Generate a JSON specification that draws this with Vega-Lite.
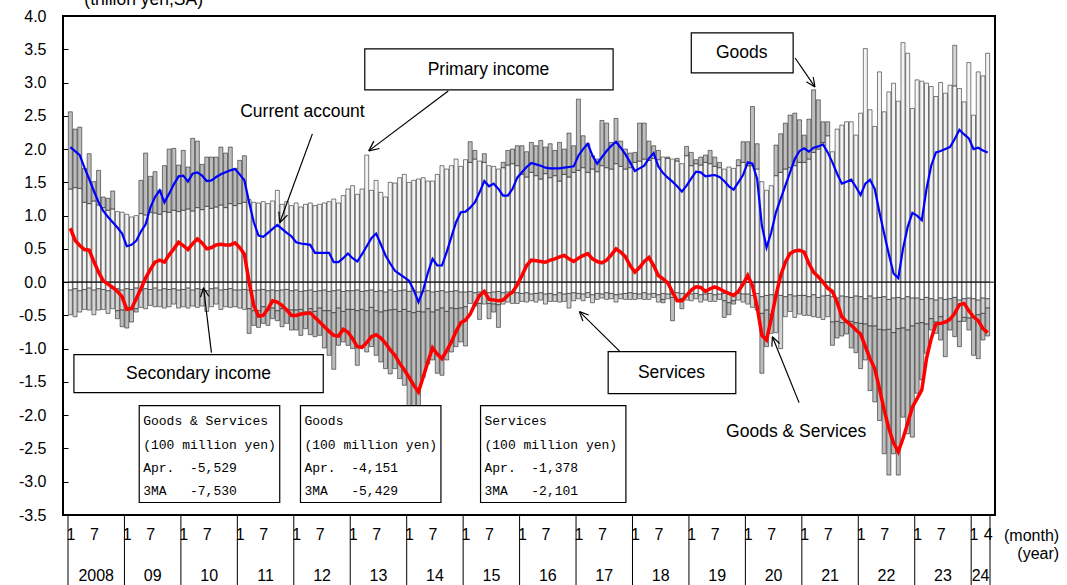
{
"$schema":"https://vega.github.io/schema/vega-lite/v6.json",
"width":932,"height":499,
"padding":{"left":63,"top":16,"right":72,"bottom":70},
"autosize":{"type":"none"},
"background":"white",
"config":{"view":{"stroke":"black","strokeWidth":2},"font":"Liberation Sans",
 "axis":{"labelOverlap":false,"labelFlush":false,"labelBound":false}},
"datasets":{
"monthly":[
{"t":0,"pi":1.40,"si":-0.12,"sv":-0.37,"tg":1.16,"ca":2.03,"gs":0.81},
{"t":1,"pi":1.42,"si":-0.10,"sv":-0.42,"tg":0.88,"ca":1.97,"gs":0.63},
{"t":2,"pi":1.41,"si":-0.13,"sv":-0.32,"tg":0.92,"ca":1.91,"gs":0.55},
{"t":3,"pi":1.20,"si":-0.11,"sv":-0.30,"tg":0.51,"ca":1.72,"gs":0.49},
{"t":4,"pi":1.18,"si":-0.09,"sv":-0.33,"tg":0.75,"ca":1.55,"gs":0.48},
{"t":5,"pi":1.22,"si":-0.12,"sv":-0.37,"tg":0.29,"ca":1.37,"gs":0.31},
{"t":6,"pi":1.16,"si":-0.10,"sv":-0.32,"tg":0.52,"ca":1.20,"gs":0.15},
{"t":7,"pi":1.12,"si":-0.11,"sv":-0.30,"tg":0.16,"ca":1.07,"gs":0.02},
{"t":8,"pi":1.08,"si":-0.13,"sv":-0.34,"tg":0.18,"ca":0.98,"gs":-0.03},
{"t":9,"pi":1.10,"si":-0.09,"sv":-0.31,"tg":0.27,"ca":0.90,"gs":-0.08},
{"t":10,"pi":1.06,"si":-0.10,"sv":-0.33,"tg":-0.12,"ca":0.82,"gs":-0.14},
{"t":11,"pi":1.05,"si":-0.12,"sv":-0.30,"tg":-0.25,"ca":0.73,"gs":-0.22},
{"t":12,"pi":1.02,"si":-0.10,"sv":-0.29,"tg":-0.30,"ca":0.54,"gs":-0.41},
{"t":13,"pi":0.98,"si":-0.11,"sv":-0.27,"tg":-0.22,"ca":0.56,"gs":-0.40},
{"t":14,"pi":1.00,"si":-0.09,"sv":-0.31,"tg":-0.05,"ca":0.62,"gs":-0.25},
{"t":15,"pi":1.03,"si":-0.12,"sv":-0.26,"tg":0.50,"ca":0.76,"gs":-0.10},
{"t":16,"pi":1.01,"si":-0.10,"sv":-0.30,"tg":0.93,"ca":0.87,"gs":0.06},
{"t":17,"pi":1.05,"si":-0.11,"sv":-0.24,"tg":0.54,"ca":1.12,"gs":0.19},
{"t":18,"pi":1.04,"si":-0.09,"sv":-0.28,"tg":0.62,"ca":1.28,"gs":0.30},
{"t":19,"pi":1.02,"si":-0.12,"sv":-0.25,"tg":0.36,"ca":1.38,"gs":0.33},
{"t":20,"pi":1.06,"si":-0.10,"sv":-0.29,"tg":0.69,"ca":1.20,"gs":0.30},
{"t":21,"pi":1.05,"si":-0.11,"sv":-0.26,"tg":0.95,"ca":1.33,"gs":0.41},
{"t":22,"pi":1.08,"si":-0.10,"sv":-0.23,"tg":0.93,"ca":1.47,"gs":0.50},
{"t":23,"pi":1.06,"si":-0.12,"sv":-0.27,"tg":0.70,"ca":1.59,"gs":0.60},
{"t":24,"pi":1.08,"si":-0.11,"sv":-0.26,"tg":0.90,"ca":1.60,"gs":0.55},
{"t":25,"pi":1.10,"si":-0.09,"sv":-0.30,"tg":0.63,"ca":1.51,"gs":0.49},
{"t":26,"pi":1.07,"si":-0.12,"sv":-0.24,"tg":1.09,"ca":1.63,"gs":0.58},
{"t":27,"pi":1.12,"si":-0.10,"sv":-0.28,"tg":1.00,"ca":1.65,"gs":0.65},
{"t":28,"pi":1.09,"si":-0.11,"sv":-0.25,"tg":0.68,"ca":1.60,"gs":0.59},
{"t":29,"pi":1.14,"si":-0.13,"sv":-0.31,"tg":0.74,"ca":1.52,"gs":0.50},
{"t":30,"pi":1.11,"si":-0.10,"sv":-0.27,"tg":0.77,"ca":1.53,"gs":0.52},
{"t":31,"pi":1.13,"si":-0.09,"sv":-0.24,"tg":0.75,"ca":1.58,"gs":0.56},
{"t":32,"pi":1.16,"si":-0.12,"sv":-0.29,"tg":0.87,"ca":1.62,"gs":0.57},
{"t":33,"pi":1.12,"si":-0.11,"sv":-0.26,"tg":0.82,"ca":1.65,"gs":0.56},
{"t":34,"pi":1.18,"si":-0.10,"sv":-0.28,"tg":0.85,"ca":1.68,"gs":0.56},
{"t":35,"pi":1.15,"si":-0.12,"sv":-0.25,"tg":0.56,"ca":1.70,"gs":0.59},
{"t":36,"pi":1.18,"si":-0.12,"sv":-0.27,"tg":0.65,"ca":1.62,"gs":0.52},
{"t":37,"pi":1.20,"si":-0.11,"sv":-0.30,"tg":0.70,"ca":1.53,"gs":0.42},
{"t":38,"pi":1.24,"si":-0.12,"sv":-0.28,"tg":-0.37,"ca":1.20,"gs":0.00},
{"t":39,"pi":1.20,"si":-0.13,"sv":-0.30,"tg":-0.22,"ca":0.90,"gs":-0.35},
{"t":40,"pi":1.19,"si":-0.12,"sv":-0.31,"tg":-0.25,"ca":0.70,"gs":-0.51},
{"t":41,"pi":1.21,"si":-0.11,"sv":-0.26,"tg":-0.25,"ca":0.68,"gs":-0.50},
{"t":42,"pi":1.18,"si":-0.13,"sv":-0.29,"tg":-0.23,"ca":0.74,"gs":-0.40},
{"t":43,"pi":1.22,"si":-0.12,"sv":-0.27,"tg":-0.16,"ca":0.80,"gs":-0.28},
{"t":44,"pi":1.38,"si":-0.13,"sv":-0.30,"tg":-0.15,"ca":0.86,"gs":-0.30},
{"t":45,"pi":1.17,"si":-0.12,"sv":-0.28,"tg":-0.27,"ca":0.80,"gs":-0.35},
{"t":46,"pi":1.21,"si":-0.11,"sv":-0.30,"tg":-0.21,"ca":0.74,"gs":-0.42},
{"t":47,"pi":1.15,"si":-0.13,"sv":-0.29,"tg":-0.30,"ca":0.69,"gs":-0.50},
{"t":48,"pi":1.19,"si":-0.12,"sv":-0.30,"tg":-0.30,"ca":0.60,"gs":-0.50},
{"t":49,"pi":1.13,"si":-0.14,"sv":-0.27,"tg":-0.39,"ca":0.58,"gs":-0.48},
{"t":50,"pi":1.17,"si":-0.13,"sv":-0.32,"tg":-0.25,"ca":0.57,"gs":-0.47},
{"t":51,"pi":1.19,"si":-0.12,"sv":-0.28,"tg":-0.39,"ca":0.56,"gs":-0.46},
{"t":52,"pi":1.15,"si":-0.14,"sv":-0.30,"tg":-0.38,"ca":0.44,"gs":-0.53},
{"t":53,"pi":1.17,"si":-0.13,"sv":-0.26,"tg":-0.41,"ca":0.44,"gs":-0.60},
{"t":54,"pi":1.19,"si":-0.12,"sv":-0.31,"tg":-0.56,"ca":0.44,"gs":-0.67},
{"t":55,"pi":1.21,"si":-0.14,"sv":-0.29,"tg":-0.67,"ca":0.44,"gs":-0.74},
{"t":56,"pi":1.25,"si":-0.13,"sv":-0.33,"tg":-0.85,"ca":0.30,"gs":-0.80},
{"t":57,"pi":1.19,"si":-0.12,"sv":-0.27,"tg":-0.56,"ca":0.30,"gs":-0.81},
{"t":58,"pi":1.30,"si":-0.14,"sv":-0.30,"tg":-0.46,"ca":0.36,"gs":-0.71},
{"t":59,"pi":1.40,"si":-0.13,"sv":-0.28,"tg":-0.54,"ca":0.43,"gs":-0.75},
{"t":60,"pi":1.45,"si":-0.13,"sv":-0.28,"tg":-0.59,"ca":0.36,"gs":-0.85},
{"t":61,"pi":1.32,"si":-0.12,"sv":-0.31,"tg":-0.82,"ca":0.31,"gs":-0.97},
{"t":62,"pi":1.40,"si":-0.14,"sv":-0.27,"tg":-0.56,"ca":0.42,"gs":-0.98},
{"t":63,"pi":1.91,"si":-0.13,"sv":-0.30,"tg":-0.62,"ca":0.54,"gs":-0.91},
{"t":64,"pi":1.38,"si":-0.12,"sv":-0.26,"tg":-0.59,"ca":0.66,"gs":-0.82},
{"t":65,"pi":1.53,"si":-0.14,"sv":-0.29,"tg":-0.67,"ca":0.73,"gs":-0.79},
{"t":66,"pi":1.35,"si":-0.13,"sv":-0.32,"tg":-0.75,"ca":0.57,"gs":-0.84},
{"t":67,"pi":1.28,"si":-0.15,"sv":-0.28,"tg":-0.87,"ca":0.40,"gs":-0.92},
{"t":68,"pi":1.50,"si":-0.12,"sv":-0.30,"tg":-0.96,"ca":0.28,"gs":-1.02},
{"t":69,"pi":1.49,"si":-0.14,"sv":-0.27,"tg":-0.89,"ca":0.17,"gs":-1.10},
{"t":70,"pi":1.57,"si":-0.13,"sv":-0.31,"tg":-1.01,"ca":0.12,"gs":-1.22},
{"t":71,"pi":1.62,"si":-0.12,"sv":-0.29,"tg":-1.14,"ca":0.07,"gs":-1.32},
{"t":72,"pi":1.50,"si":-0.14,"sv":-0.30,"tg":-1.44,"ca":0.02,"gs":-1.43},
{"t":73,"pi":1.53,"si":-0.13,"sv":-0.33,"tg":-1.44,"ca":-0.12,"gs":-1.55},
{"t":74,"pi":1.55,"si":-0.15,"sv":-0.29,"tg":-1.42,"ca":-0.30,"gs":-1.65},
{"t":75,"pi":1.57,"si":-0.14,"sv":-0.31,"tg":-0.98,"ca":-0.12,"gs":-1.43},
{"t":76,"pi":1.52,"si":-0.13,"sv":-0.27,"tg":-0.83,"ca":0.14,"gs":-1.20},
{"t":77,"pi":1.52,"si":-0.15,"sv":-0.30,"tg":-0.72,"ca":0.35,"gs":-0.99},
{"t":78,"pi":1.62,"si":-0.14,"sv":-0.28,"tg":-0.95,"ca":0.25,"gs":-1.08},
{"t":79,"pi":1.75,"si":-0.13,"sv":-0.26,"tg":-1.01,"ca":0.25,"gs":-1.15},
{"t":80,"pi":1.70,"si":-0.15,"sv":-0.29,"tg":-0.73,"ca":0.45,"gs":-1.03},
{"t":81,"pi":1.75,"si":-0.14,"sv":-0.25,"tg":-0.66,"ca":0.68,"gs":-0.90},
{"t":82,"pi":1.85,"si":-0.13,"sv":-0.27,"tg":-0.57,"ca":0.90,"gs":-0.74},
{"t":83,"pi":1.74,"si":-0.15,"sv":-0.24,"tg":-0.51,"ca":1.05,"gs":-0.61},
{"t":84,"pi":1.84,"si":-0.15,"sv":-0.22,"tg":-0.59,"ca":1.06,"gs":-0.57},
{"t":85,"pi":1.80,"si":-0.14,"sv":-0.18,"tg":0.31,"ca":1.12,"gs":-0.48},
{"t":86,"pi":1.85,"si":-0.16,"sv":-0.20,"tg":0.13,"ca":1.20,"gs":-0.33},
{"t":87,"pi":1.82,"si":-0.15,"sv":-0.17,"tg":-0.24,"ca":1.35,"gs":-0.20},
{"t":88,"pi":1.80,"si":-0.14,"sv":-0.19,"tg":0.13,"ca":1.52,"gs":-0.14},
{"t":89,"pi":1.75,"si":-0.16,"sv":-0.16,"tg":-0.23,"ca":1.44,"gs":-0.26},
{"t":90,"pi":1.74,"si":-0.15,"sv":-0.18,"tg":-0.12,"ca":1.48,"gs":-0.27},
{"t":91,"pi":1.70,"si":-0.14,"sv":-0.20,"tg":-0.34,"ca":1.40,"gs":-0.28},
{"t":92,"pi":1.72,"si":-0.16,"sv":-0.17,"tg":0.08,"ca":1.30,"gs":-0.27},
{"t":93,"pi":1.76,"si":-0.15,"sv":-0.15,"tg":0.22,"ca":1.30,"gs":-0.20},
{"t":94,"pi":1.78,"si":-0.14,"sv":-0.18,"tg":0.22,"ca":1.40,"gs":-0.15},
{"t":95,"pi":1.75,"si":-0.16,"sv":-0.16,"tg":0.30,"ca":1.57,"gs":-0.04},
{"t":96,"pi":1.62,"si":-0.17,"sv":-0.12,"tg":0.43,"ca":1.65,"gs":0.10},
{"t":97,"pi":1.58,"si":-0.16,"sv":-0.14,"tg":0.38,"ca":1.73,"gs":0.25},
{"t":98,"pi":1.65,"si":-0.18,"sv":-0.10,"tg":0.45,"ca":1.79,"gs":0.33},
{"t":99,"pi":1.60,"si":-0.17,"sv":-0.13,"tg":0.45,"ca":1.77,"gs":0.32},
{"t":100,"pi":1.55,"si":-0.16,"sv":-0.11,"tg":0.58,"ca":1.75,"gs":0.31},
{"t":101,"pi":1.63,"si":-0.18,"sv":-0.15,"tg":0.40,"ca":1.72,"gs":0.30},
{"t":102,"pi":1.57,"si":-0.17,"sv":-0.12,"tg":0.51,"ca":1.71,"gs":0.33},
{"t":103,"pi":1.60,"si":-0.19,"sv":-0.10,"tg":0.38,"ca":1.71,"gs":0.35},
{"t":104,"pi":1.52,"si":-0.16,"sv":-0.14,"tg":0.58,"ca":1.71,"gs":0.38},
{"t":105,"pi":1.62,"si":-0.18,"sv":-0.11,"tg":0.38,"ca":1.72,"gs":0.40},
{"t":106,"pi":1.58,"si":-0.17,"sv":-0.22,"tg":0.66,"ca":1.73,"gs":0.35},
{"t":107,"pi":1.65,"si":-0.16,"sv":-0.12,"tg":0.40,"ca":1.74,"gs":0.31},
{"t":108,"pi":1.68,"si":-0.17,"sv":-0.08,"tg":1.07,"ca":1.90,"gs":0.36},
{"t":109,"pi":1.72,"si":-0.18,"sv":-0.10,"tg":0.48,"ca":2.00,"gs":0.40},
{"t":110,"pi":1.65,"si":-0.16,"sv":-0.07,"tg":0.43,"ca":2.08,"gs":0.43},
{"t":111,"pi":1.70,"si":-0.19,"sv":-0.12,"tg":0.20,"ca":1.90,"gs":0.35},
{"t":112,"pi":1.66,"si":-0.17,"sv":-0.09,"tg":0.19,"ca":1.78,"gs":0.31},
{"t":113,"pi":1.75,"si":-0.18,"sv":-0.06,"tg":0.68,"ca":1.88,"gs":0.29},
{"t":114,"pi":1.72,"si":-0.16,"sv":-0.10,"tg":0.67,"ca":1.97,"gs":0.33},
{"t":115,"pi":1.70,"si":-0.17,"sv":-0.08,"tg":0.40,"ca":2.05,"gs":0.41},
{"t":116,"pi":1.78,"si":-0.19,"sv":-0.11,"tg":0.68,"ca":2.11,"gs":0.50},
{"t":117,"pi":1.74,"si":-0.18,"sv":-0.07,"tg":0.38,"ca":2.02,"gs":0.45},
{"t":118,"pi":1.70,"si":-0.17,"sv":-0.09,"tg":0.30,"ca":1.92,"gs":0.38},
{"t":119,"pi":1.72,"si":-0.16,"sv":-0.10,"tg":0.22,"ca":1.80,"gs":0.25},
{"t":120,"pi":1.80,"si":-0.17,"sv":-0.09,"tg":0.15,"ca":1.67,"gs":0.15},
{"t":121,"pi":1.82,"si":-0.18,"sv":-0.07,"tg":0.57,"ca":1.71,"gs":0.22},
{"t":122,"pi":1.85,"si":-0.16,"sv":-0.10,"tg":0.54,"ca":1.75,"gs":0.31},
{"t":123,"pi":1.83,"si":-0.18,"sv":-0.08,"tg":0.29,"ca":1.86,"gs":0.37},
{"t":124,"pi":1.86,"si":-0.17,"sv":-0.06,"tg":0.19,"ca":1.94,"gs":0.25},
{"t":125,"pi":1.84,"si":-0.19,"sv":-0.11,"tg":0.14,"ca":1.74,"gs":0.10},
{"t":126,"pi":1.88,"si":-0.17,"sv":-0.09,"tg":-0.05,"ca":1.64,"gs":0.05},
{"t":127,"pi":1.86,"si":-0.18,"sv":-0.07,"tg":0.02,"ca":1.57,"gs":-0.01},
{"t":128,"pi":1.85,"si":-0.18,"sv":-0.05,"tg":-0.35,"ca":1.51,"gs":-0.15},
{"t":129,"pi":1.82,"si":-0.16,"sv":-0.10,"tg":0.04,"ca":1.44,"gs":-0.28},
{"t":130,"pi":1.78,"si":-0.17,"sv":-0.08,"tg":-0.15,"ca":1.36,"gs":-0.28},
{"t":131,"pi":1.90,"si":-0.18,"sv":-0.09,"tg":0.14,"ca":1.45,"gs":-0.20},
{"t":132,"pi":1.75,"si":-0.18,"sv":-0.10,"tg":0.20,"ca":1.56,"gs":-0.12},
{"t":133,"pi":1.78,"si":-0.17,"sv":-0.08,"tg":0.06,"ca":1.66,"gs":-0.07},
{"t":134,"pi":1.76,"si":-0.19,"sv":-0.11,"tg":0.12,"ca":1.65,"gs":-0.08},
{"t":135,"pi":1.80,"si":-0.18,"sv":-0.09,"tg":0.11,"ca":1.59,"gs":-0.14},
{"t":136,"pi":1.78,"si":-0.17,"sv":-0.12,"tg":0.20,"ca":1.60,"gs":-0.10},
{"t":137,"pi":1.74,"si":-0.19,"sv":-0.10,"tg":0.14,"ca":1.61,"gs":-0.07},
{"t":138,"pi":1.72,"si":-0.18,"sv":-0.08,"tg":0.08,"ca":1.58,"gs":-0.10},
{"t":139,"pi":1.70,"si":-0.17,"sv":-0.11,"tg":-0.25,"ca":1.52,"gs":-0.14},
{"t":140,"pi":1.73,"si":-0.18,"sv":-0.13,"tg":-0.18,"ca":1.44,"gs":-0.17},
{"t":141,"pi":1.71,"si":-0.19,"sv":-0.09,"tg":-0.05,"ca":1.39,"gs":-0.20},
{"t":142,"pi":1.75,"si":-0.17,"sv":-0.10,"tg":0.09,"ca":1.50,"gs":-0.14},
{"t":143,"pi":1.80,"si":-0.18,"sv":-0.12,"tg":0.31,"ca":1.61,"gs":-0.03},
{"t":144,"pi":1.75,"si":-0.18,"sv":-0.15,"tg":0.36,"ca":1.80,"gs":0.10},
{"t":145,"pi":1.75,"si":-0.20,"sv":-0.18,"tg":0.89,"ca":1.78,"gs":-0.05},
{"t":146,"pi":1.70,"si":-0.17,"sv":-0.25,"tg":0.38,"ca":1.55,"gs":-0.37},
{"t":147,"pi":1.51,"si":-0.22,"sv":-0.25,"tg":-0.90,"ca":0.85,"gs":-0.80},
{"t":148,"pi":1.38,"si":-0.20,"sv":-0.22,"tg":-0.55,"ca":0.52,"gs":-0.87},
{"t":149,"pi":1.45,"si":-0.19,"sv":-0.30,"tg":-0.28,"ca":0.75,"gs":-0.55},
{"t":150,"pi":1.60,"si":-0.21,"sv":-0.55,"tg":0.46,"ca":1.05,"gs":-0.20},
{"t":151,"pi":1.65,"si":-0.20,"sv":-0.80,"tg":0.58,"ca":1.25,"gs":0.10},
{"t":152,"pi":1.70,"si":-0.22,"sv":-0.30,"tg":0.69,"ca":1.45,"gs":0.30},
{"t":153,"pi":1.72,"si":-0.19,"sv":-0.25,"tg":0.79,"ca":1.65,"gs":0.43},
{"t":154,"pi":1.75,"si":-0.21,"sv":-0.32,"tg":0.79,"ca":1.85,"gs":0.47},
{"t":155,"pi":1.80,"si":-0.20,"sv":-0.28,"tg":0.64,"ca":1.97,"gs":0.48},
{"t":156,"pi":1.80,"si":-0.20,"sv":-0.30,"tg":0.41,"ca":2.01,"gs":0.45},
{"t":157,"pi":1.85,"si":-0.22,"sv":-0.28,"tg":0.60,"ca":1.96,"gs":0.28},
{"t":158,"pi":1.95,"si":-0.19,"sv":-0.33,"tg":0.94,"ca":2.02,"gs":0.15},
{"t":159,"pi":2.00,"si":-0.23,"sv":-0.30,"tg":0.74,"ca":2.04,"gs":0.08},
{"t":160,"pi":2.10,"si":-0.21,"sv":-0.35,"tg":0.31,"ca":2.07,"gs":0.00},
{"t":161,"pi":2.20,"si":-0.20,"sv":-0.32,"tg":0.21,"ca":1.95,"gs":-0.09},
{"t":162,"pi":1.96,"si":-0.22,"sv":-0.38,"tg":-0.35,"ca":1.80,"gs":-0.14},
{"t":163,"pi":2.30,"si":-0.24,"sv":-0.35,"tg":-0.25,"ca":1.63,"gs":-0.30},
{"t":164,"pi":2.36,"si":-0.21,"sv":-0.40,"tg":-0.20,"ca":1.48,"gs":-0.52},
{"t":165,"pi":2.41,"si":-0.22,"sv":-0.38,"tg":-0.18,"ca":1.51,"gs":-0.59},
{"t":166,"pi":2.41,"si":-0.23,"sv":-0.36,"tg":-0.40,"ca":1.54,"gs":-0.65},
{"t":167,"pi":2.21,"si":-0.21,"sv":-0.40,"tg":-0.45,"ca":1.43,"gs":-0.72},
{"t":168,"pi":2.54,"si":-0.22,"sv":-0.40,"tg":-0.68,"ca":1.31,"gs":-0.78},
{"t":169,"pi":3.51,"si":-0.25,"sv":-0.38,"tg":-0.54,"ca":1.48,"gs":-0.97},
{"t":170,"pi":2.59,"si":-0.21,"sv":-0.45,"tg":-0.97,"ca":1.54,"gs":-1.15},
{"t":171,"pi":2.34,"si":-0.24,"sv":-0.42,"tg":-1.14,"ca":1.40,"gs":-1.30},
{"t":172,"pi":3.16,"si":-0.23,"sv":-0.48,"tg":-1.37,"ca":1.05,"gs":-1.60},
{"t":173,"pi":2.56,"si":-0.22,"sv":-0.50,"tg":-1.86,"ca":0.73,"gs":-1.92},
{"t":174,"pi":2.86,"si":-0.26,"sv":-0.45,"tg":-2.19,"ca":0.42,"gs":-2.20},
{"t":175,"pi":2.99,"si":-0.24,"sv":-0.52,"tg":-1.82,"ca":0.13,"gs":-2.42},
{"t":176,"pi":2.72,"si":-0.23,"sv":-0.47,"tg":-2.20,"ca":0.06,"gs":-2.55},
{"t":177,"pi":3.60,"si":-0.25,"sv":-0.44,"tg":-1.34,"ca":0.50,"gs":-2.35},
{"t":178,"pi":3.44,"si":-0.22,"sv":-0.50,"tg":-1.56,"ca":0.83,"gs":-2.12},
{"t":179,"pi":2.61,"si":-0.24,"sv":-0.42,"tg":-1.67,"ca":1.04,"gs":-1.88},
{"t":180,"pi":3.04,"si":-0.24,"sv":-0.38,"tg":-1.05,"ca":1.00,"gs":-1.75},
{"t":181,"pi":3.02,"si":-0.26,"sv":-0.35,"tg":-0.86,"ca":0.93,"gs":-1.62},
{"t":182,"pi":2.99,"si":-0.23,"sv":-0.40,"tg":-0.44,"ca":1.40,"gs":-1.15},
{"t":183,"pi":2.94,"si":-0.25,"sv":-0.30,"tg":-0.17,"ca":1.75,"gs":-0.85},
{"t":184,"pi":2.79,"si":-0.27,"sv":-0.33,"tg":-0.17,"ca":1.95,"gs":-0.63},
{"t":185,"pi":3.00,"si":-0.24,"sv":-0.28,"tg":-0.35,"ca":1.97,"gs":-0.62},
{"t":186,"pi":2.84,"si":-0.26,"sv":-0.35,"tg":-0.51,"ca":2.00,"gs":-0.60},
{"t":187,"pi":2.96,"si":-0.25,"sv":-0.30,"tg":-0.17,"ca":2.03,"gs":-0.56},
{"t":188,"pi":2.95,"si":-0.23,"sv":0.61,"tg":-0.59,"ca":2.15,"gs":-0.47},
{"t":189,"pi":2.91,"si":-0.27,"sv":-0.32,"tg":-0.38,"ca":2.29,"gs":-0.34},
{"t":190,"pi":2.71,"si":-0.25,"sv":-0.28,"tg":-0.06,"ca":2.22,"gs":-0.32},
{"t":191,"pi":3.30,"si":-0.24,"sv":-0.30,"tg":-0.18,"ca":2.16,"gs":-0.43},
{"t":192,"pi":2.51,"si":-0.25,"sv":-0.28,"tg":-0.57,"ca":2.00,"gs":-0.52},
{"t":193,"pi":3.16,"si":-0.27,"sv":-0.22,"tg":-0.66,"ca":2.02,"gs":-0.58},
{"t":194,"pi":3.10,"si":-0.24,"sv":-0.23,"tg":-0.40,"ca":1.98,"gs":-0.70},
{"t":195,"pi":3.44,"si":-0.25,"sv":-0.14,"tg":-0.42,"ca":1.95,"gs":-0.76}
],
"boxes":[
{"x1":62.59,"x2":115.38,"y1":2.889,"y2":3.505},
{"x1":132.0,"x2":153.65,"y1":3.144,"y2":3.745},
{"x1":0.76,"x2":53.76,"y1":-1.09,"y2":-1.66},
{"x1":114.33,"x2":141.46,"y1":-1.045,"y2":-1.676},
{"x1":14.64,"x2":44.51,"y1":-1.856,"y2":-3.312},
{"x1":48.92,"x2":78.78,"y1":-1.856,"y2":-3.312},
{"x1":87.2,"x2":118.1,"y1":-1.856,"y2":-3.312}
],
"segs":[
{"x1":80.33,"y1":2.874,"x2":63.43,"y2":1.973},
{"x1":63.43,"y1":1.973,"x2":65.70,"y2":2.008},
{"x1":63.43,"y1":1.973,"x2":64.53,"y2":2.119},
{"x1":51.45,"y1":2.228,"x2":44.51,"y2":0.892},
{"x1":44.51,"y1":0.892,"x2":46.15,"y2":1.008},
{"x1":44.51,"y1":0.892,"x2":44.32,"y2":1.057},
{"x1":154.07,"y1":3.369,"x2":158.28,"y2":2.934},
{"x1":158.28,"y1":2.934,"x2":157.92,"y2":3.083},
{"x1":158.28,"y1":2.934,"x2":156.47,"y2":3.011},
{"x1":29.99,"y1":-1.06,"x2":28.31,"y2":-0.084},
{"x1":28.31,"y1":-0.084,"x2":27.66,"y2":-0.227},
{"x1":28.31,"y1":-0.084,"x2":29.43,"y2":-0.212},
{"x1":116.85,"y1":-1.045,"x2":108.23,"y2":-0.444},
{"x1":108.23,"y1":-0.444,"x2":108.96,"y2":-0.586},
{"x1":108.23,"y1":-0.444,"x2":110.20,"y2":-0.494},
{"x1":154.91,"y1":-1.811,"x2":149.24,"y2":-0.82},
{"x1":149.24,"y1":-0.82,"x2":149.13,"y2":-0.97},
{"x1":149.24,"y1":-0.82,"x2":150.79,"y2":-0.922}
],
"notes":[
{"t":88.88,"v":3.19,"label":"Primary income"},
{"t":49.34,"v":2.56,"label":"Current account"},
{"t":142.72,"v":3.44,"label":"Goods"},
{"t":27.26,"v":-1.375,"label":"Secondary income"},
{"t":127.79,"v":-1.36,"label":"Services"},
{"t":154.29,"v":-2.246,"label":"Goods & Services"},
{"t":15.59,"v":4.24,"label":"(trillion yen,SA)"}
],
"units":[
{"t":210.2,"v":-3.823,"label":"(month)"},
{"t":210.2,"v":-4.093,"label":"(year)"}
],
"infos":[
{"t":15.48,"v":-2.081,"label":"Goods & Services"},
{"t":15.48,"v":-2.441,"label":"(100 million yen)"},
{"t":15.48,"v":-2.787,"label":"Apr.\u00a0\u00a0-5,529"},
{"t":15.48,"v":-3.132,"label":"3MA\u00a0\u00a0\u00a0-7,530"},
{"t":49.76,"v":-2.081,"label":"Goods"},
{"t":49.76,"v":-2.441,"label":"(100 million yen)"},
{"t":49.76,"v":-2.787,"label":"Apr.\u00a0\u00a0-4,151"},
{"t":49.76,"v":-3.132,"label":"3MA\u00a0\u00a0\u00a0-5,429"},
{"t":88.04,"v":-2.081,"label":"Services"},
{"t":88.04,"v":-2.441,"label":"(100 million yen)"},
{"t":88.04,"v":-2.787,"label":"Apr.\u00a0\u00a0-1,378"},
{"t":88.04,"v":-3.132,"label":"3MA\u00a0\u00a0\u00a0-2,101"}
],
"bounds":[{"t":-0.5},{"t":11.5},{"t":23.5},{"t":35.5},{"t":47.5},{"t":59.5},{"t":71.5},{"t":83.5},{"t":95.5},{"t":107.5},{"t":119.5},{"t":131.5},{"t":143.5},{"t":155.5},{"t":167.5},{"t":179.5},{"t":191.5},{"t":195.5}],
"years":[{"t":5.5,"label":"2008"},{"t":17.5,"label":"09"},{"t":29.5,"label":"10"},{"t":41.5,"label":"11"},{"t":53.5,"label":"12"},{"t":65.5,"label":"13"},{"t":77.5,"label":"14"},{"t":89.5,"label":"15"},{"t":101.5,"label":"16"},{"t":113.5,"label":"17"},{"t":125.5,"label":"18"},{"t":137.5,"label":"19"},{"t":149.5,"label":"20"},{"t":161.5,"label":"21"},{"t":173.5,"label":"22"},{"t":185.5,"label":"23"},{"t":193.5,"label":"24"}],
"zero":[{"v":0}]
},
"layer":[
{"data":{"name":"monthly"},
 "transform":[{"fold":["pi","si","sv","tg"],"as":["series","value"]}],
 "mark":{"type":"bar","width":4,"stroke":"black","strokeWidth":0.5},
 "encoding":{
  "x":{"field":"t","type":"quantitative","title":null,
   "scale":{"domain":[-0.5,195.5],"nice":false,"zero":false},
   "axis":{"values":[0,5,12,17,24,29,36,41,48,53,60,65,72,77,84,89,96,101,108,113,120,125,132,137,144,149,156,161,168,173,180,185,192,195],
    "tickCount":200,
    "labelExpr":"datum.value == 195 ? '4' : (datum.value % 12 == 0 ? '1' : '7')",
    "domain":false,"ticks":false,"grid":false,"labelPadding":11,"labelFontSize":16,"labelFont":"Liberation Sans","labelColor":"black","labelOverlap":false,"labelFlush":false,"labelBound":false}},
  "y":{"field":"value","type":"quantitative","stack":"zero","title":null,
   "scale":{"domain":[-3.5,4],"nice":false,"zero":false},
   "axis":{"values":[-3.5,-3,-2.5,-2,-1.5,-1,-0.5,0,0.5,1,1.5,2,2.5,3,3.5,4],
    "tickCount":100,
    "labelExpr":"datum.value < 0 ? '-' + format(-datum.value, '.1f') : format(datum.value, '.1f')",
    "domain":false,"grid":false,"ticks":true,"tickSize":-5,"tickColor":"black","labelPadding":22,"labelFontSize":16,"labelFont":"Liberation Sans","labelColor":"black","labelOverlap":false,"labelBound":false}},
  "color":{"field":"series","type":"nominal","scale":{"domain":["pi","si","sv","tg"],"range":["#f4f4f4","#ffffff","#d4d4d4","#bdbdbd"]},"legend":null},
  "order":{"field":"series","sort":"ascending"}
 }},
{"data":{"name":"boxes"},
 "mark":{"type":"rect","fill":"white","stroke":"black","strokeWidth":1.2},
 "encoding":{"x":{"field":"x1","type":"quantitative","title":null},"x2":{"field":"x2"},"y":{"field":"y1","type":"quantitative","title":null},"y2":{"field":"y2"}}},
{"data":{"name":"zero"},
 "mark":{"type":"rule","color":"black","strokeWidth":1},
 "encoding":{"y":{"field":"v","type":"quantitative","title":null}}},
{"data":{"name":"monthly"},
 "mark":{"type":"line","color":"#0000ff","strokeWidth":2.2},
 "encoding":{"x":{"field":"t","type":"quantitative","title":null},"y":{"field":"ca","type":"quantitative","title":null}}},
{"data":{"name":"monthly"},
 "mark":{"type":"line","color":"#ff0000","strokeWidth":3.5},
 "encoding":{"x":{"field":"t","type":"quantitative","title":null},"y":{"field":"gs","type":"quantitative","title":null}}},
{"data":{"name":"segs"},
 "mark":{"type":"rule","color":"black","strokeWidth":1.2},
 "encoding":{"x":{"field":"x1","type":"quantitative","title":null},"y":{"field":"y1","type":"quantitative","title":null},"x2":{"field":"x2"},"y2":{"field":"y2"}}},
{"data":{"name":"notes"},
 "mark":{"type":"text","font":"Liberation Sans","fontSize":17.5,"align":"center","baseline":"middle","color":"black"},
 "encoding":{"x":{"field":"t","type":"quantitative","title":null},"y":{"field":"v","type":"quantitative","title":null},"text":{"field":"label"}}},
{"data":{"name":"units"},
 "mark":{"type":"text","font":"Liberation Sans","fontSize":16,"align":"right","baseline":"middle","color":"black"},
 "encoding":{"x":{"field":"t","type":"quantitative","title":null},"y":{"field":"v","type":"quantitative","title":null},"text":{"field":"label"}}},
{"data":{"name":"infos"},
 "mark":{"type":"text","font":"Liberation Mono","fontSize":13,"align":"left","baseline":"middle","color":"black"},
 "encoding":{"x":{"field":"t","type":"quantitative","title":null},"y":{"field":"v","type":"quantitative","title":null},"text":{"field":"label"}}},
{"data":{"name":"bounds"},
 "mark":{"type":"rule","color":"black","strokeWidth":1},
 "encoding":{"x":{"field":"t","type":"quantitative","title":null},"y":{"datum":-3.5},"y2":{"datum":-4.6}}},
{"data":{"name":"years"},
 "mark":{"type":"text","font":"Liberation Sans","fontSize":16,"align":"center","baseline":"middle","color":"black"},
 "encoding":{"x":{"field":"t","type":"quantitative","title":null},"y":{"datum":-4.41},"text":{"field":"label"}}}
]
}
